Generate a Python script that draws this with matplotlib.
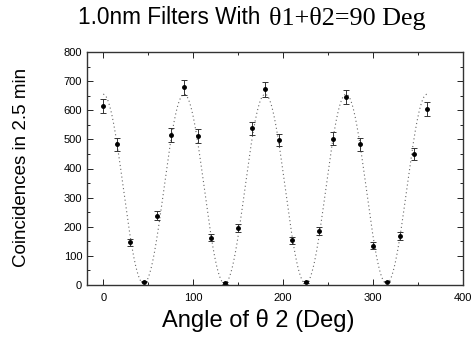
import numpy as np
import matplotlib
matplotlib.use("Agg")
import matplotlib.pyplot as plt
from matplotlib.ticker import MultipleLocator

angles = [0, 15, 30, 45, 60, 75, 90, 105, 120, 135, 150, 165, 180,
          195, 210, 225, 240, 255, 270, 285, 300, 315, 330, 345, 360]
counts = [616, 483, 147, 12, 238, 515, 679, 512, 163, 8, 195, 538, 672,
          498, 154, 10, 184, 503, 645, 483, 135, 12, 169, 450, 604]
errors = [24, 22, 12, 3, 15, 23, 26, 23, 13, 3, 14, 23, 26,
          22, 12, 3, 14, 22, 25, 22, 12, 3, 13, 21, 25]

# fit parameters of the dotted curve: offset + amplitude*cos^2(2*theta)
fit_offset = 5
fit_amplitude = 650

fig = plt.figure(figsize=(4.77, 3.39), dpi=100)
ax = fig.add_axes([87/477, 1-285/339, (463-87)/477, (285-52)/339])

th = np.linspace(0, 360, 721)
curve = fit_offset + fit_amplitude * np.cos(np.radians(2*th))**2
ax.plot(th, curve, linestyle=(0, (1, 2.5)), color='#666666', linewidth=0.8)
ax.errorbar(angles, counts, yerr=errors, fmt='o', color='black', markersize=2.5,
            elinewidth=0.7, capsize=2, capthick=0.7, ecolor='#333333')

ax.set_xlim(-18, 400)
ax.set_ylim(0, 800)
ax.xaxis.set_major_locator(MultipleLocator(100))
ax.xaxis.set_minor_locator(MultipleLocator(50))
ax.yaxis.set_major_locator(MultipleLocator(100))
ax.yaxis.set_minor_locator(MultipleLocator(50))
ax.tick_params(which='both', direction='in', top=True, right=True,
               labelsize=8, width=0.6)
ax.tick_params(which='major', length=4)
ax.tick_params(which='minor', length=2)
for lab in ax.get_xticklabels() + ax.get_yticklabels():
    lab.set_fontfamily('Liberation Sans')
ax.tick_params(axis='x', pad=6)
for s in ax.spines.values():
    s.set_linewidth(1.0)
    s.set_color('#333333')

fig.text(267/477, 1-18/339, "1.0nm Filters With ", ha='right', va='center',
         fontsize=16.3, family='Liberation Sans')
fig.text(269/477, 1-18/339, "θ1+θ2=90 Deg", ha='left', va='center',
         fontsize=18.8, family='Liberation Serif')
fig.text(258/477, 1-320/339, "Angle of θ 2 (Deg)", ha='center', va='center',
         fontsize=17, family='Liberation Sans')
fig.text(22/477, 1-167/339, "Coincidences in 2.5 min", ha='center', va='center',
         rotation=90, fontsize=13.5, family='Liberation Sans')

fig.savefig("out.png", dpi=100)
